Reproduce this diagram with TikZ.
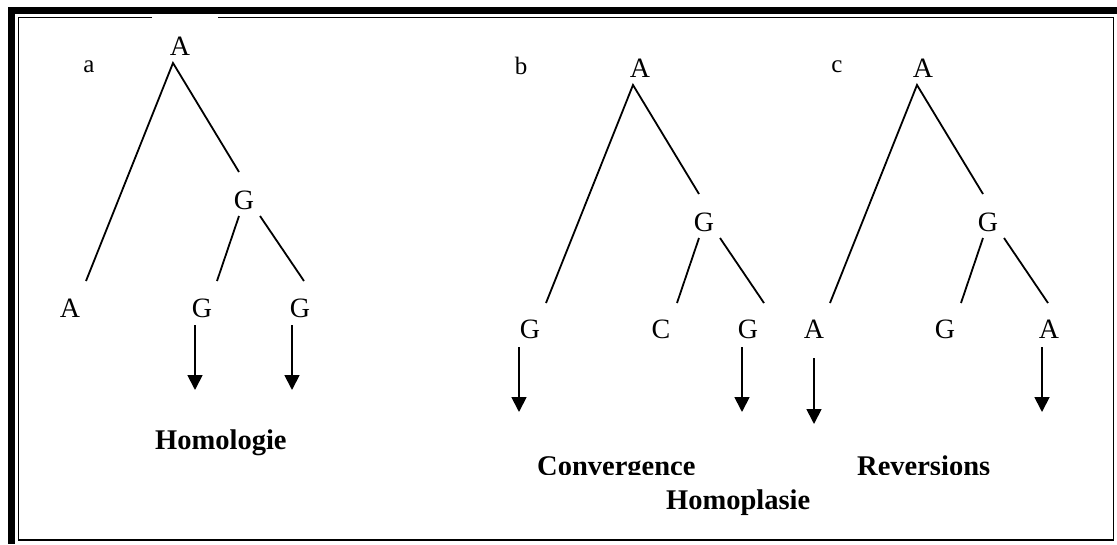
\documentclass[tikz,border=0pt]{standalone}
\usepackage{fontspec}
\setmainfont{Liberation Serif}
\usetikzlibrary{arrows.meta}
\begin{document}
\begin{tikzpicture}[x=1pt,y=-1pt,
  lbl/.style={font=\fontsize{28}{33}\selectfont, inner sep=0pt, anchor=center},
  tag/.style={font=\fontsize{25}{30}\selectfont, inner sep=0pt, anchor=center},
  ttl/.style={font=\fontsize{28.5}{34}\selectfont\bfseries, inner sep=0pt, anchor=base west},
  branch/.style={line width=1.8pt},
  down/.style={line width=1.8pt, -{Triangle[length=15pt,width=15pt]}},
]
\useasboundingbox (0,0) rectangle (1117,544);
% frame
\fill (8,7) rectangle (1117,13.5);
\fill (8,7) rectangle (15,544);
\draw[line width=1.6pt] (152,17.5) -| (18.5,540) -| (1113.5,17.5) -- (218,17.5);

% ---------- tree a ----------
\node[tag] (ta) at (89,67) {a};
\node[lbl] (aA) at (180,46) {A};
\node[lbl] (aG) at (244,200) {G};
\node[lbl] (aL1) at (70,308.5) {A};
\node[lbl] (aL2) at (202,308.5) {G};
\node[lbl] (aL3) at (300,308.5) {G};
\coordinate (aTop) at (173,63);
\coordinate (aLe) at (86,281);
\coordinate (aRe) at (239,172);
\coordinate (aGl) at (239,216);
\coordinate (aGle) at (217,281);
\coordinate (aGr) at (260,216);
\coordinate (aGre) at (304,281);
\draw[branch] (aLe) -- (aTop) -- (aRe);
\draw[branch] (aGl) -- (aGle);
\draw[branch] (aGr) -- (aGre);
\coordinate (aS2) at (195,325); \coordinate (aE2) at (195,390);
\coordinate (aS3) at (292,325); \coordinate (aE3) at (292,390);
\draw[down] (aS2) -- (aE2);
\draw[down] (aS3) -- (aE3);
\node[ttl] (homol) at (155,449.5) {Homologie};

% ---------- tree b ----------
\node[tag] (tb) at (521,66) {b};
\node[lbl] (bA) at (640,68) {A};
\node[lbl] (bG) at (704,222) {G};
\node[lbl] (bL1) at (530,329) {G};
\node[lbl] (bL2) at (661,329) {C};
\node[lbl] (bL3) at (748,329) {G};
\coordinate (bTop) at (633,85);
\coordinate (bLe) at (546,303);
\coordinate (bRe) at (699,194);
\coordinate (bGl) at (699,238);
\coordinate (bGle) at (677,303);
\coordinate (bGr) at (720,238);
\coordinate (bGre) at (764,303);
\draw[branch] (bLe) -- (bTop) -- (bRe);
\draw[branch] (bGl) -- (bGle);
\draw[branch] (bGr) -- (bGre);
\coordinate (bS1) at (519,347); \coordinate (bE1) at (519,412);
\coordinate (bS3) at (742,347); \coordinate (bE3) at (742,412);
\draw[down] (bS1) -- (bE1);
\draw[down] (bS3) -- (bE3);

% ---------- tree c ----------
\node[tag] (tc) at (837,67) {c};
\node[lbl] (cA) at (923,68) {A};
\node[lbl] (cG) at (988,222) {G};
\node[lbl] (cL1) at (814,329) {A};
\node[lbl] (cL2) at (945,329) {G};
\node[lbl] (cL3) at (1049,329) {A};
\coordinate (cTop) at (917,85);
\coordinate (cLe) at (830,303);
\coordinate (cRe) at (983,194);
\coordinate (cGl) at (983,238);
\coordinate (cGle) at (961,303);
\coordinate (cGr) at (1004,238);
\coordinate (cGre) at (1048,303);
\draw[branch] (cLe) -- (cTop) -- (cRe);
\draw[branch] (cGl) -- (cGle);
\draw[branch] (cGr) -- (cGre);
\coordinate (cS1) at (814,358); \coordinate (cE1) at (814,424);
\coordinate (cS3) at (1042,347); \coordinate (cE3) at (1042,412);
\draw[down] (cS1) -- (cE1);
\draw[down] (cS3) -- (cE3);

% ---------- titles ----------
\begin{scope}
  \clip (0,0) rectangle (1117,474);
  \node[ttl] (conv) at (537,475) {Convergence};
  \node[ttl] (rev) at (857,475) {Reversions};
\end{scope}
\node[ttl] (homop) at (666,509.5) {Homoplasie};
\end{tikzpicture}
\end{document}
